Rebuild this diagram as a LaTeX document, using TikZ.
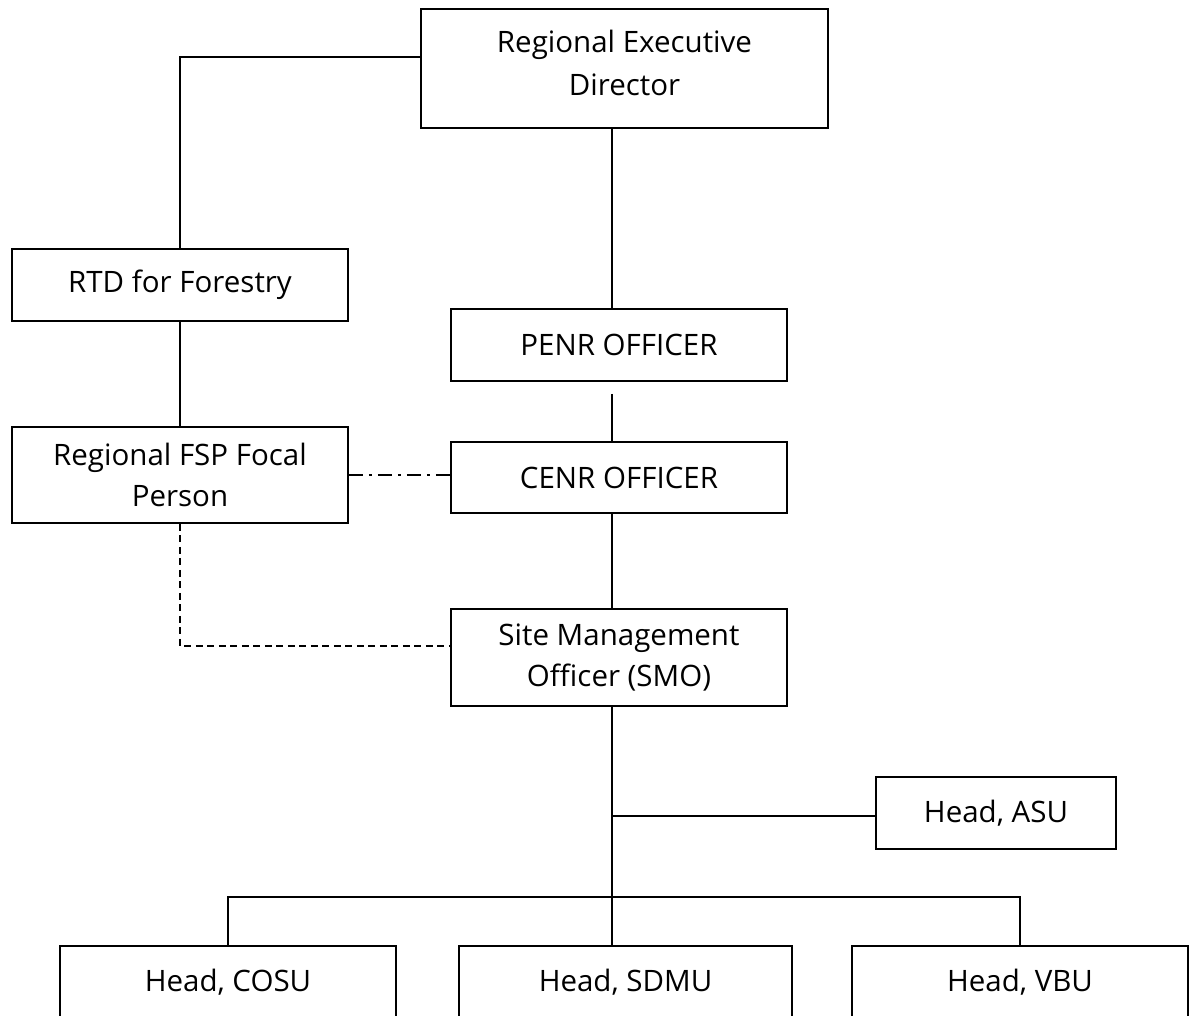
\documentclass[tikz,border=0pt]{standalone}
\usepackage{fontspec}
\setmainfont{Open Sans}
\newcommand\orgfont{\fontsize{29.5}{41}\selectfont}
\tikzset{
  orgbox/.style={draw, line width=1.5pt, inner sep=0pt, align=center, font=\orgfont, fill=white},
  link/.style={line width=1.6pt},
  dashlink/.style={line width=1.6pt, dash pattern=on 7pt off 4.5pt},
  dashdotlink/.style={line width=1.6pt, dash pattern=on 14pt off 6pt on 3pt off 6pt},
}
\begin{document}
\begin{tikzpicture}[x=1pt,y=-1pt]
\useasboundingbox (0,0) rectangle (1194,1015);
\clip (0,0) rectangle (1194,1015);
\fill[white] (0,0) rectangle (1194,1015);
\coordinate (spine) at (612,0);
\coordinate (bus) at (0,897);
% boxes
\node[orgbox, minimum width=407pt, minimum height=119pt] (red) at (624.5,68.5) {};
\node[font=\fontsize{29.5}{43}\selectfont, align=center, inner sep=0pt] (redtxt) at (624.5,63) {Regional Executive\\Director};
\node[orgbox, minimum width=336pt, minimum height=72pt] (rtd) at (180,285) {RTD for Forestry};
\node[orgbox, minimum width=336pt, minimum height=96pt] (rfsp) at (180,475) {Regional FSP Focal\\Person};
\node[orgbox, minimum width=336pt, minimum height=72pt] (penr) at (619,345) {PENR OFFICER};
\node[orgbox, minimum width=336pt, minimum height=71pt] (cenr) at (619,477.5) {CENR OFFICER};
\node[orgbox, minimum width=336pt, minimum height=97pt] (smo) at (619,657.5) {Site Management\\Officer (SMO)};
\node[orgbox, minimum width=240pt, minimum height=72pt] (asu) at (996,813) {Head, ASU};
\node[orgbox, minimum width=336pt, minimum height=72pt] (cosu) at (228,982) {Head, COSU};
\node[orgbox, minimum width=333pt, minimum height=72pt] (sdmu) at (625.5,982) {Head, SDMU};
\node[orgbox, minimum width=336pt, minimum height=72pt] (vbu) at (1020,982) {Head, VBU};
% connectors
\draw[link] ([yshift=11.5pt]red.west) -| (rtd.north);
\draw[link] (rtd.south) -- (rfsp.north);
\draw[link] (red.south -| spine) -- (penr.north -| spine);
\draw[link] ([yshift=-12pt]penr.south -| spine) -- (cenr.north -| spine);
\draw[link] (cenr.south -| spine) -- (smo.north -| spine);
\draw[link] (smo.south -| spine) -- (sdmu.north -| spine);
\draw[link] ([yshift=-3pt]asu.west -| spine) -- ([yshift=-3pt]asu.west);
\draw[link] (cosu.north) -- (cosu.north |- bus) -- (vbu.north |- bus) -- (vbu.north);
\draw[dashdotlink] (rfsp.east) -- (rfsp.east -| cenr.west);
\draw[dashlink] (rfsp.south) |- ([yshift=11.5pt]smo.west);
\end{tikzpicture}
\end{document}
